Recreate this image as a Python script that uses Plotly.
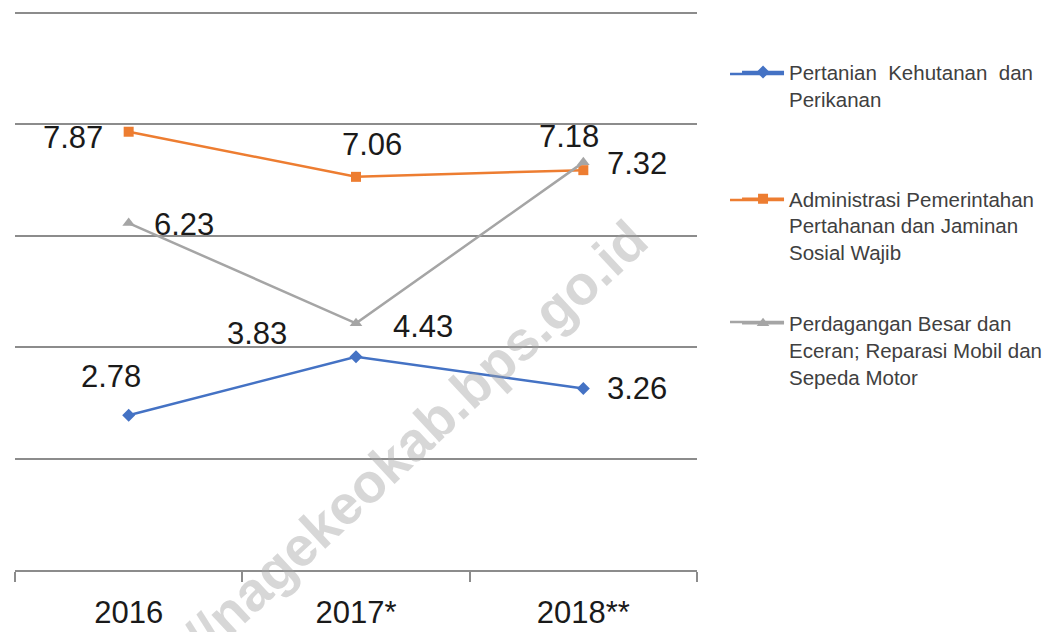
import plotly.graph_objects as go

categories = ["2016", "2017*", "2018**"]
pertanian = [2.78, 3.83, 3.26]
administrasi = [7.87, 7.06, 7.18]
perdagangan = [6.23, 4.43, 7.32]

name_pertanian = "Pertanian  Kehutanan  dan<br>Perikanan"
name_admin = "Administrasi Pemerintahan<br>Pertahanan dan Jaminan<br>Sosial Wajib"
name_dagang = "Perdagangan Besar dan<br>Eceran; Reparasi Mobil dan<br>Sepeda Motor"

FONT = "Liberation Sans, Arial, sans-serif"
BLUE, ORANGE, GRAY = "#4472C4", "#ED7D31", "#A5A5A5"

fig = go.Figure()
fig.add_trace(go.Scatter(x=categories, y=pertanian, mode="lines+markers", name=name_pertanian,
                         line=dict(color=BLUE, width=2.5),
                         marker=dict(symbol="diamond", size=10, color=BLUE), legend="legend"))
fig.add_trace(go.Scatter(x=categories, y=administrasi, mode="lines+markers", name=name_admin,
                         line=dict(color=ORANGE, width=2.5),
                         marker=dict(symbol="square", size=10, color=ORANGE), legend="legend2"))
fig.add_trace(go.Scatter(x=categories, y=perdagangan, mode="lines+markers", name=name_dagang,
                         line=dict(color=GRAY, width=2.5),
                         marker=dict(symbol="triangle-up", size=11, color=GRAY), legend="legend3"))

# label offsets (pixels) for each series
offs_pert = [(-18, 39), (-99, 23), (54, 0)]
offs_admin = [(-56, -6), (16, 32), (-14, 34)]
offs_dag = [(55, -1), (67, -3), (54, -1)]

annotations = []
for vals, offs in ((pertanian, offs_pert), (administrasi, offs_admin), (perdagangan, offs_dag)):
    for i, (v, (dx, dy)) in enumerate(zip(vals, offs)):
        annotations.append(dict(x=i, y=v, xref="x", yref="y", text=f"{v:.2f}", showarrow=False,
                                xshift=dx, yshift=dy, xanchor="center", yanchor="middle",
                                font=dict(family=FONT, size=31, color="#1a1a1a")))

annotations.append(dict(x=0.522, y=0.161, xref="paper", yref="paper",
                        text="<b>http://nagekeokab.bps.go.id</b>", showarrow=False,
                        textangle=-43, xanchor="center", yanchor="middle",
                        font=dict(family=FONT, size=55, color="rgba(160,160,160,0.42)")))

legend_common = dict(font=dict(family=FONT, size=20.5, color="#404040"), bgcolor="rgba(0,0,0,0)",
                     xanchor="left", yanchor="top", valign="top", itemwidth=42,
                     tracegroupgap=0)

# longer legend key lines (Excel style), drawn behind the legend symbols
shapes = []
for col, yk in ((BLUE, 0.8889), (ORANGE, 0.6631), (GRAY, 0.4444)):
    shapes.append(dict(type="line", xref="paper", yref="paper", x0=1.0484, x1=1.1276,
                       y0=yk, y1=yk, line=dict(color=col, width=2.5)))

fig.update_layout(
    width=1047, height=624,
    margin=dict(l=7, r=358, t=4, b=62, autoexpand=False),
    paper_bgcolor="white", plot_bgcolor="white",
    showlegend=True,
    legend=dict(x=1.0587, y=0.928, **legend_common),
    legend2=dict(x=1.0587, y=0.701, **legend_common),
    legend3=dict(x=1.0587, y=0.4776, **legend_common),
    annotations=annotations,
    shapes=shapes,
    xaxis=dict(type="category", range=[-0.5, 2.5], tickson="boundaries", ticks="outside",
               ticklen=10, tickcolor="#8c8c8c", tickwidth=1.5, showline=True, linecolor="#8c8c8c",
               linewidth=1.5, showgrid=False, ticklabelstandoff=14, automargin=False,
               tickfont=dict(family=FONT, size=31, color="#1a1a1a")),
    yaxis=dict(range=[0, 10.02], tickvals=[0, 2, 4, 6, 8, 10], showgrid=True, gridcolor="#8c8c8c",
               gridwidth=1.5, showticklabels=False, zeroline=False, showline=False, ticks="",
               automargin=False),
)

fig.write_html("out.html")
